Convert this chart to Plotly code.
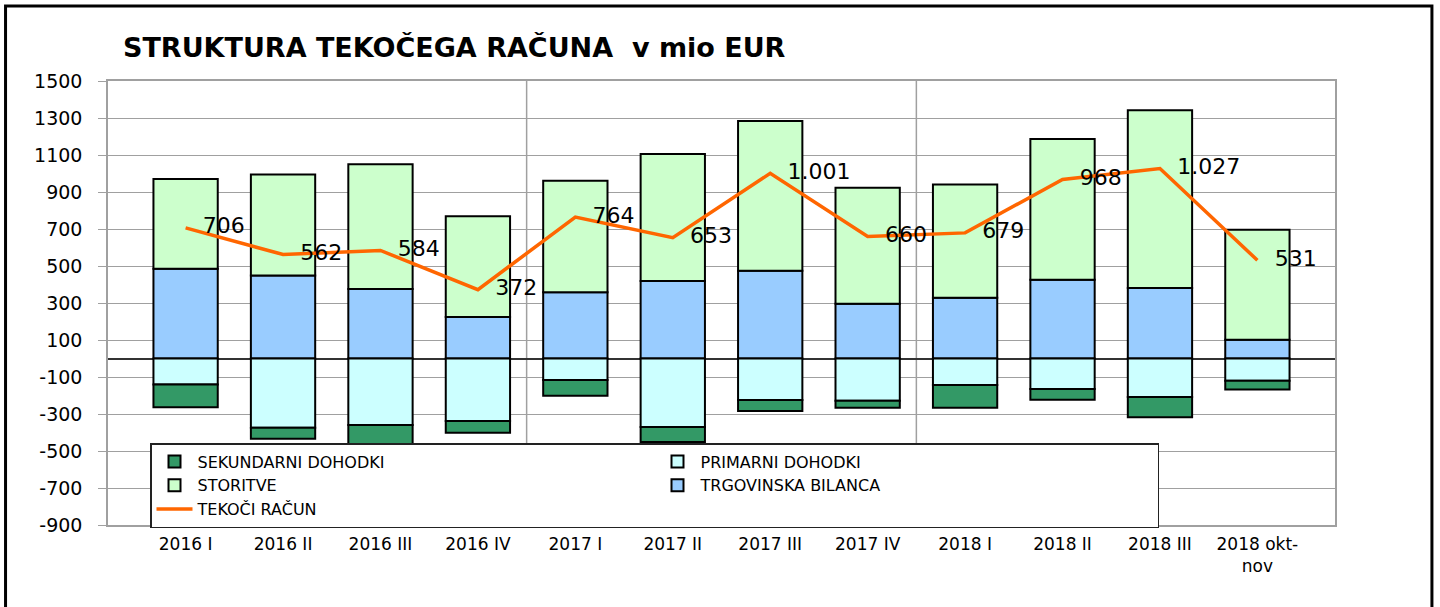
import plotly.graph_objects as go

categories = ["2016 I", "2016 II", "2016 III", "2016 IV",
              "2017 I", "2017 II", "2017 III", "2017 IV",
              "2018 I", "2018 II", "2018 III", "2018 okt-<br>nov"]
trgovinska = [485, 448, 376, 224, 358, 419, 475, 296, 329, 426, 381, 102]
storitve = [485, 546, 674, 545, 603, 686, 809, 627, 612, 760, 961, 594]
primarni = [-140, -374, -360, -338, -116, -370, -224, -228, -143, -165, -208, -120]
sekundarni = [-124, -60, -106, -63, -85, -82, -60, -38, -123, -58, -110, -47]
tekoci = [706, 562, 584, 372, 764, 653, 1001, 660, 679, 968, 1027, 531]
y_ticks = list(range(-900, 1501, 200))
y_ticktext = [str(v) for v in y_ticks]

FONT = "DejaVu Sans"


def fmt(v):
    return f"{v:,}".replace(",", ".")


edge = dict(color="black", width=2)
fig = go.Figure()
fig.add_trace(go.Bar(x=categories, y=trgovinska, name="TRGOVINSKA BILANCA",
                     marker=dict(color="#99CCFF", line=edge), legendrank=4))
fig.add_trace(go.Bar(x=categories, y=primarni, name="PRIMARNI DOHODKI",
                     marker=dict(color="#CCFFFF", line=edge), legendrank=2))
fig.add_trace(go.Bar(x=categories, y=storitve, name="STORITVE",
                     marker=dict(color="#CCFFCC", line=edge), legendrank=3))
fig.add_trace(go.Bar(x=categories, y=sekundarni, name="SEKUNDARNI DOHODKI",
                     marker=dict(color="#339966", line=edge), legendrank=1))
fig.add_trace(go.Scatter(x=categories, y=tekoci, name="TEKOČI RAČUN",
                         mode="lines+markers+text",
                         line=dict(color="#FF6600", width=3.5),
                         marker=dict(size=26, color="rgba(0,0,0,0)"),
                         text=[fmt(v) for v in tekoci],
                         textposition="middle right",
                         textfont=dict(family=FONT, size=22, color="black"),
                         legendrank=5))

grid = "#A0A0A0"
shapes = []
for xs in (3.5, 7.5):
    shapes.append(dict(type="line", xref="x", yref="y", x0=xs, x1=xs,
                       y0=-900, y1=1500, line=dict(color=grid, width=1.5),
                       layer="below"))
# outer border
shapes.append(dict(type="rect", xref="paper", yref="paper",
                   x0=-0.0835, x1=1.079, y0=-0.3, y1=1.169,
                   line=dict(color="black", width=3), fillcolor="rgba(0,0,0,0)"))

fig.update_layout(
    width=1440, height=607,
    margin=dict(l=108, r=105, t=81, b=82, autoexpand=False),
    paper_bgcolor="white", plot_bgcolor="white",
    barmode="relative", bargap=0.34,
    font=dict(family=FONT, color="black"),
    title=dict(text="<b>STRUKTURA TEKOČEGA RAČUNA  v mio EUR</b>",
               x=(123 - 108) / 1227, xref="paper", xanchor="left",
               y=1 - 48 / 607, yref="container", yanchor="middle",
               font=dict(family=FONT, size=27, color="black")),
    legend=dict(orientation="h", x=(150 - 108) / 1227, y=(525 - 443) / 444,
                xanchor="left", yanchor="top",
                bgcolor="white", bordercolor="#222", borderwidth=1.5,
                font=dict(family=FONT, size=16, color="black"),
                entrywidth=452, entrywidthmode="pixels",
                tracegroupgap=0, itemwidth=36),
    xaxis=dict(showgrid=False, showline=True, linecolor=grid, linewidth=1.5,
               mirror=True, tickfont=dict(family=FONT, size=17),
               ticklabelstandoff=3, automargin=False),
    yaxis=dict(range=[-900, 1500], tickvals=y_ticks, ticktext=y_ticktext,
               showgrid=True, gridcolor=grid, gridwidth=1.2,
               showline=True, linecolor=grid, linewidth=1.5, mirror=True,
               ticks="outside", ticklen=8, tickcolor=grid,
               zeroline=True, zerolinecolor="#333333", zerolinewidth=1.5,
               tickfont=dict(family=FONT, size=19), ticklabelstandoff=12,
               automargin=False),
    shapes=shapes,
    showlegend=True,
)

fig.write_html("out.html", config={"displayModeBar": False},
               post_script="document.body.style.margin='0px';document.body.style.padding='0px';")
